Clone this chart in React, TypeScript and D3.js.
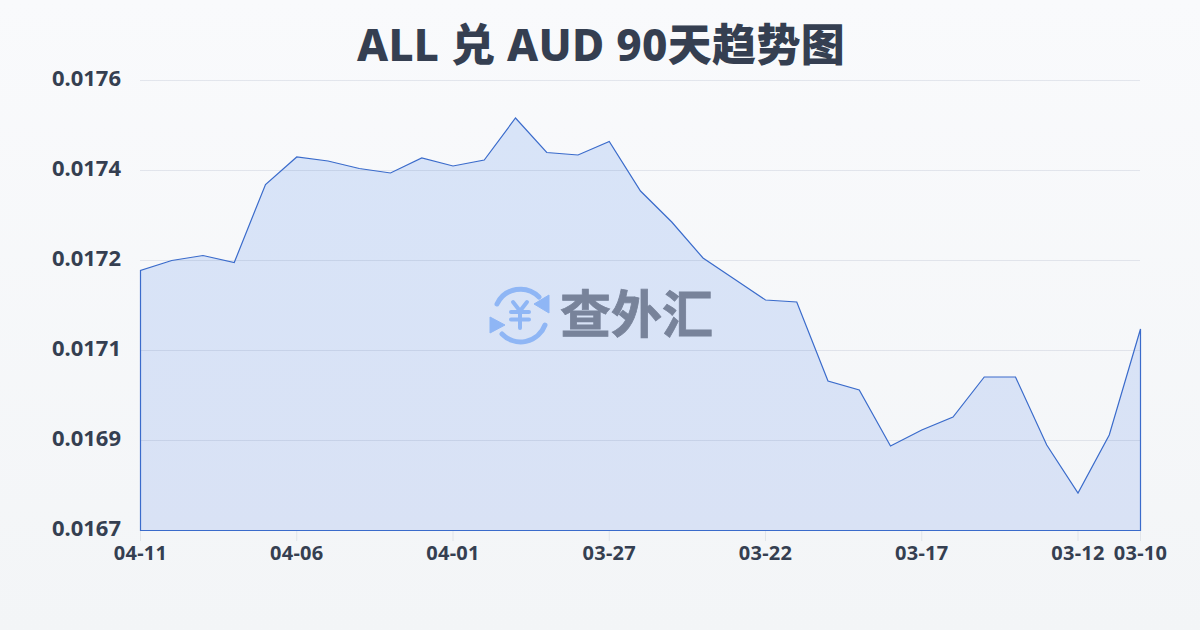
import React from "react";
import * as d3 from "d3";

const W = 1200, H = 630;
const title = "ALL 兑 AUD 90天趋势图";
const values = [
  0.01722, 0.01724, 0.01725, 0.017236, 0.017392, 0.017447, 0.017439, 0.017424, 0.017415, 0.017445,
  0.017429, 0.017441, 0.017525, 0.017456, 0.017451, 0.017478, 0.017379, 0.017317, 0.017245, 0.017203,
  0.017161, 0.017157, 0.016999, 0.016981, 0.016869, 0.016901, 0.016927, 0.017007, 0.017007, 0.016871,
  0.016775, 0.016891, 0.017103,
];
const xTickIdx = [0, 5, 10, 15, 20, 25, 30, 32];
const xTickLabels = ["04-11", "04-06", "04-01", "03-27", "03-22", "03-17", "03-12", "03-10"];
const yTickVals = [0.0167, 0.01688, 0.01706, 0.01724, 0.01742, 0.0176];

export default function App() {
  const x = d3.scaleLinear().domain([0, values.length - 1]).range([140.5, 1140.5]);
  const y = d3.scaleLinear().domain([0.0167, 0.0176]).range([530.5, 80.5]);
  const line = d3.line<number>().x((_, i) => x(i)).y((d) => y(d));
  const area = d3.area<number>().x((_, i) => x(i)).y0(y(0.0167)).y1((d) => y(d));
  const font = "'Noto Sans', 'Noto Sans CJK SC', sans-serif";
  const logoBlue = "#8fb6f5";
  return (
    <svg width={W} height={H} viewBox={`0 0 ${W} ${H}`} style={{ position: "absolute", left: 0, top: 0 }} fontFamily={font}>
      <defs>
        <linearGradient id="bg" x1="0" y1="0" x2="0" y2="1">
          <stop offset="0" stopColor="#f9fafc" />
          <stop offset="1" stopColor="#f3f5f7" />
        </linearGradient>
        <linearGradient id="fill" x1="0" y1="0" x2="0" y2="1">
          <stop offset="0" stopColor="#d8e4f8" />
          <stop offset="1" stopColor="#d9e2f5" />
        </linearGradient>
      </defs>
      <rect width={W} height={H} fill="url(#bg)" />
      <text x={601} y={60.5} textAnchor="middle" fontSize={44} fontWeight={800} fill="#353f51" letterSpacing={0.3}>{title}</text>
      <path d={area(values) ?? ""} fill="url(#fill)" />
      {yTickVals.map((v) => (
        <line key={v} x1={140} x2={1140} y1={y(v)} y2={y(v)} stroke="#374a78" strokeOpacity={0.11} />
      ))}
      {yTickVals.map((v) => (
        <text key={v} x={121} y={y(v)} dy={5.5} textAnchor="end" fontSize={22} fontWeight={700} fill="#353f51">{v.toFixed(4)}</text>
      ))}
      {xTickIdx.map((i, k) => (
        <g key={i}>
          <line x1={x(i)} x2={x(i)} y1={531} y2={541} stroke="#374a78" strokeOpacity={0.1} />
          <text x={x(i)} y={560} textAnchor="middle" fontSize={20} fontWeight={700} letterSpacing={0.3} fill="#353f51">{xTickLabels[k]}</text>
        </g>
      ))}
      <path d={`M${x(0)},${y(0.0167)}L${line(values)!.slice(1)}L${x(values.length - 1)},${y(0.0167)}Z`} fill="none" stroke="#3a6bcb" strokeWidth={1.2} />
      <g>
        <g fill="none" stroke={logoBlue} strokeWidth={5} strokeLinecap="round">
          <path d="M497,304 A26,26 0 0 1 539,297" />
          <path d="M545,325 A26,26 0 0 1 502,334" />
          <path d="M513,302 L520,311 L527,302 M511,312 H529 M511,319.5 H529 M520,311 V328" strokeWidth={4} strokeLinejoin="round" />
        </g>
        <path d="M549,295 L549,313 L534,304 Z" fill={logoBlue} stroke={logoBlue} strokeLinejoin="round" />
        <path d="M490,317 L490,333 L505,325 Z" fill={logoBlue} stroke={logoBlue} strokeLinejoin="round" />
        <text x={560} y={333} fontSize={51} fontWeight={700} fill="#78839a" stroke="#78839a" strokeWidth={0.8} fontFamily="'Noto Sans CJK SC'">查外汇</text>
      </g>
    </svg>
  );
}
